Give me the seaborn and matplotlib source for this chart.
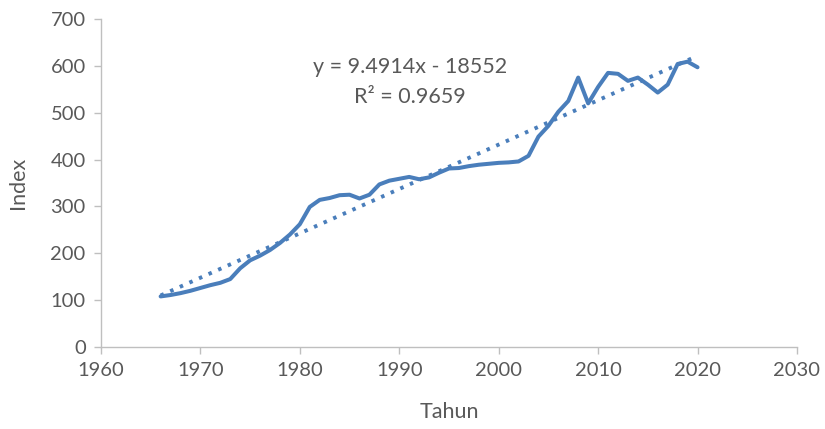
import numpy as np
import pandas as pd
import matplotlib
matplotlib.use("Agg")
import matplotlib.pyplot as plt
import seaborn as sns

# data
years = list(range(1966, 2021))
index_values = [108, 111, 115, 120, 126, 132, 137, 145, 168, 185,
                195, 207, 222, 240, 262, 299, 314, 318, 324, 325,
                317, 325, 347, 355, 359, 363, 358, 362, 372, 381,
                382, 386, 389, 391, 393, 394, 396, 408, 449, 472,
                502, 525, 575, 520, 555, 585, 583, 568, 575, 560,
                543, 560, 604, 609, 597]
eq_text = "y = 9.4914x - 18552"
r2_text = "R² = 0.9659"

df = pd.DataFrame({"Tahun": years, "Index": index_values})

# linear trend
slope, intercept = np.polyfit(df["Tahun"], df["Index"], 1)
df["Trend"] = slope * df["Tahun"] + intercept

sns.set_style("white")
plt.rcParams["font.family"] = ["Lato", "DejaVu Sans"]

blue = "#4A7EBB"
grey_text = "#595959"
grey_axis = "#BFBFBF"

fig = plt.figure(figsize=(8.25, 4.29), dpi=100)
ax = fig.add_axes([0.1224, 0.1911, 0.8436, 0.7646])

sns.lineplot(data=df, x="Tahun", y="Index", ax=ax, color=blue, linewidth=2.9)
sns.lineplot(data=df, x="Tahun", y="Trend", ax=ax, color=blue, linewidth=2.8,
             linestyle=(0, (0.9, 1.8)))
ax.lines[-1].set_dash_capstyle("butt")

ax.set_xlim(1960, 2030)
ax.set_ylim(0, 700)
ax.set_xticks(range(1960, 2031, 10))
ax.set_yticks(range(0, 701, 100))

for side in ["top", "right"]:
    ax.spines[side].set_visible(False)
for side in ["left", "bottom"]:
    ax.spines[side].set_color(grey_axis)
    ax.spines[side].set_linewidth(1.0)

ax.tick_params(axis="both", which="major", direction="out", length=5, width=1,
               color=grey_axis, labelcolor=grey_text, labelsize=14.5, pad=6,
               bottom=True, left=True)

ax.set_xlabel("Tahun", fontsize=15.5, color=grey_text, labelpad=16)
ax.set_ylabel("Index", fontsize=15.5, color=grey_text, labelpad=16)

ax.text(1991.1, 597, eq_text, ha="center", va="center", fontsize=15.5, color=grey_text)
ax.text(1991.1, 533, r2_text, ha="center", va="center", fontsize=15.5, color=grey_text)

fig.savefig("out.png", dpi=100)
